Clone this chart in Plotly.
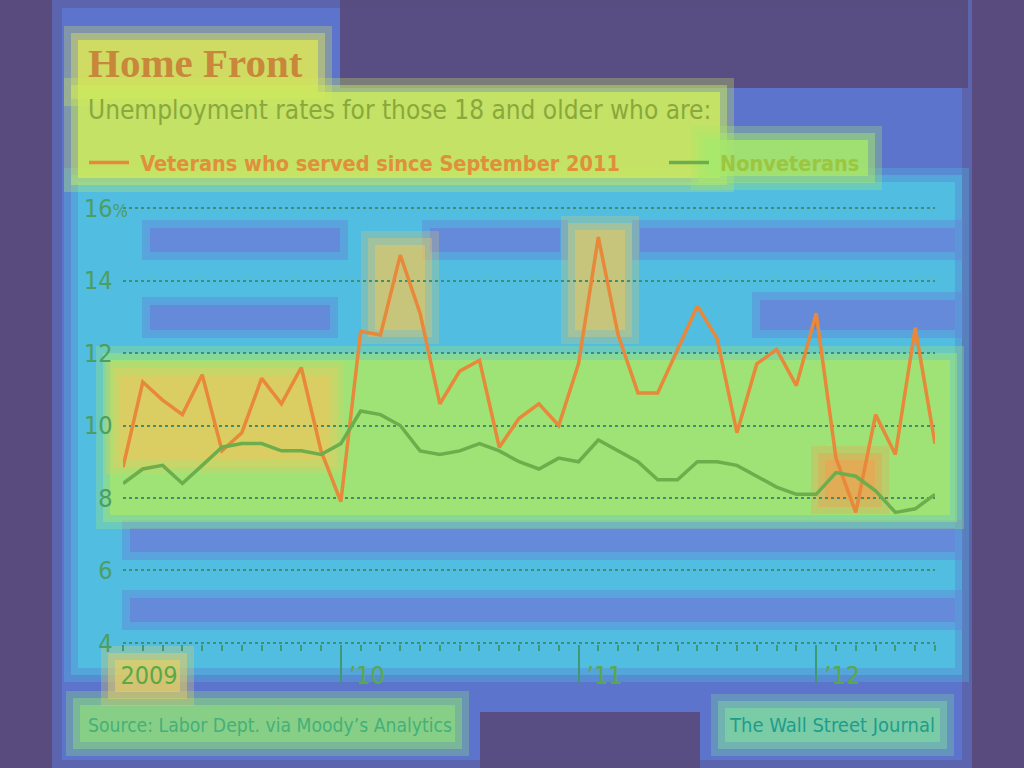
import plotly.graph_objects as go

# ---- data (monthly, Feb 2009 .. Jul 2012) ----
month_index = list(range(42))
veterans = [8.85, 11.2, 10.7, 10.3, 11.4, 9.3, 9.8, 11.3, 10.6, 11.6, 9.3, 7.9,
            12.6, 12.5, 14.7, 13.1, 10.6, 11.5, 11.8, 9.4, 10.2, 10.6, 10.0, 11.7,
            15.2, 12.5, 10.9, 10.9, 12.1, 13.3, 12.4, 9.8, 11.7, 12.1, 11.1, 13.1,
            9.1, 7.6, 10.3, 9.2, 12.7, 9.5]
nonveterans = [8.4, 8.8, 8.9, 8.4, 8.9, 9.4, 9.5, 9.5, 9.3, 9.3, 9.2, 9.5,
               10.4, 10.3, 10.0, 9.3, 9.2, 9.3, 9.5, 9.3, 9.0, 8.8, 9.1, 9.0,
               9.6, 9.3, 9.0, 8.5, 8.5, 9.0, 9.0, 8.9, 8.6, 8.3, 8.1, 8.1,
               8.7, 8.6, 8.2, 7.6, 7.7, 8.1]
year_label_pos = [0, 11, 23, 35]
year_labels = ["2009", "\u201910", "\u201911", "\u201912"]
year_tick_pos = [11, 23, 35]
y_tick_vals = [4, 6, 8, 10, 12, 14, 16]
y_tick_labels = ["4", "6", "8", "10", "12", "14", "16%"]
series_names = ["Veterans who served since September 2011", "Nonveterans"]

NARROW = "DejaVu Sans Condensed, Liberation Sans Narrow, sans-serif"

# ---- geometry of the plot area in pixels ----
W, H = 1024, 768
L, R, T, B = 123, 935, 207, 644
Y_RANGE = [3.97, 16.03]


def fx(X):
    return (X - L) / (R - L)


def fy(Y):
    return (B - Y) / (B - T)


shapes = []


def glow(x0, y0, x1, y1, color, pads=(14, 7, 0), ops=(0.3, 0.45, 0.8)):
    for p, o in zip(pads, ops):
        shapes.append(dict(type="rect", xref="paper", yref="paper",
                           x0=fx(x0 - p), x1=fx(x1 + p), y0=fy(y1 + p), y1=fy(y0 - p),
                           fillcolor=color, opacity=o, line=dict(width=0), layer="below"))


# background "heat" look
glow(62, 8, 962, 760, "#5c74cc", pads=(10, 0), ops=(0.6, 1.0))
glow(340, 0, 968, 88, "#584a7c", pads=(0,), ops=(0.9,))
glow(480, 712, 700, 768, "#584a7c", pads=(0,), ops=(0.9,))
glow(78, 182, 955, 668, "#4fc3e2")
# darker bands between grid lines
for (bx0, bx1, by0, by1) in [(150, 340, 228, 252), (430, 560, 228, 252), (640, 955, 228, 252),
                             (150, 330, 305, 330), (760, 955, 300, 330),
                             (130, 955, 528, 552), (130, 955, 598, 622)]:
    glow(bx0, by0, bx1, by1, "#6a7fd8", pads=(8, 0), ops=(0.4, 0.7))
glow(78, 40, 318, 92, "#d9e35a")
glow(78, 92, 720, 178, "#cdeb5c")
glow(705, 140, 868, 176, "#a6e96a")
glow(110, 360, 950, 515, "#a9e86a", ops=(0.3, 0.45, 0.7))
glow(120, 375, 330, 460, "#eec85c", ops=(0.25, 0.35, 0.5))
glow(375, 245, 425, 330, "#eec85c", ops=(0.25, 0.35, 0.5))
glow(575, 230, 625, 330, "#eec85c", ops=(0.25, 0.35, 0.5))
glow(825, 460, 875, 500, "#f0a050", ops=(0.3, 0.4, 0.6))
glow(80, 705, 455, 742, "#8fe07a", ops=(0.3, 0.45, 0.6))
glow(725, 708, 940, 742, "#7fdca0", ops=(0.3, 0.45, 0.6))
glow(115, 660, 180, 692, "#e8d060", ops=(0.3, 0.45, 0.6))

spacer = "<span style='color:rgba(0,0,0,0)'>____</span>"
fig = go.Figure()
fig.add_trace(go.Scatter(
    x=month_index, y=veterans, mode="lines",
    name="\u00a0<b><span style='color:#e08f3a'>" + series_names[0] + "</span>" + spacer + "</b>",
    line=dict(color="#e8883a", width=3.5), hoverinfo="skip"))
fig.add_trace(go.Scatter(
    x=month_index, y=nonveterans, mode="lines",
    name="\u00a0<b><span style='color:#9cc63e'>" + series_names[1] + "</span></b>",
    line=dict(color="#6cae4c", width=3.5), hoverinfo="skip"))
# carrier trace for the year-tick axis
fig.add_trace(go.Scatter(x=month_index, y=nonveterans, xaxis="x2", mode="lines",
                         line=dict(width=0), opacity=0, showlegend=False, hoverinfo="skip"))

tick_text = [t.replace("%", "<span style='font-size:18px'>%</span>") if t.endswith("%")
             else t + "<span style='font-size:18px;color:rgba(0,0,0,0)'>%</span>"
             for t in y_tick_labels]

axis_color = "#3f9a72"
fig.update_layout(
    width=W, height=H, autosize=False,
    margin=dict(l=L, r=W - R, t=T, b=H - B, autoexpand=False),
    paper_bgcolor="#5a4b7e", plot_bgcolor="rgba(0,0,0,0)",
    font=dict(family=NARROW),
    shapes=shapes,
    showlegend=True,
    legend=dict(orientation="h", xref="container", yref="container",
                x=84 / W, y=1 - 142 / H, xanchor="left", yanchor="top",
                font=dict(size=21.5, family=NARROW),
                bgcolor="rgba(0,0,0,0)", itemwidth=40, entrywidth=0,
                tracegroupgap=0, traceorder="normal"),
    xaxis=dict(range=[0, 41], tickvals=year_label_pos, ticktext=year_labels,
               ticks="", showgrid=False, zeroline=False, showline=False,
               tickfont=dict(size=25, color="#5aa84a"),
               ticklabelshift=26, ticklabelstandoff=14,
               minor=dict(tick0=0, dtick=1, ticks="outside", ticklen=6,
                          tickwidth=1.5, tickcolor=axis_color, showgrid=False)),
    xaxis2=dict(range=[0, 41], overlaying="x", anchor="y", side="bottom",
                tickvals=year_tick_pos, showticklabels=False, ticks="outside",
                ticklen=38, tickwidth=1.5, tickcolor=axis_color,
                showgrid=False, zeroline=False, showline=False),
    yaxis=dict(range=Y_RANGE, tickvals=y_tick_vals, ticktext=tick_text,
               ticks="", showline=False, zeroline=False,
               showgrid=True, gridcolor="#3f8f70", griddash="dot", gridwidth=1.5,
               tickfont=dict(size=25, color="#4c9e62"), ticklabelstandoff=-6),
)

fig.add_annotation(text="<b>Home Front</b>", xref="paper", yref="paper",
                   x=fx(86), y=fy(63), xanchor="left", yanchor="middle", showarrow=False,
                   font=dict(family="Liberation Serif, serif", size=41, color="#c8873a"))
fig.add_annotation(text="Unemployment rates for those 18 and older who are:",
                   xref="paper", yref="paper", x=fx(86), y=fy(110),
                   xanchor="left", yanchor="middle", showarrow=False,
                   font=dict(size=26, color="#8aa83c"))
fig.add_annotation(text="Source: Labor Dept. via Moody\u2019s Analytics",
                   xref="paper", yref="paper", x=fx(86), y=fy(725),
                   xanchor="left", yanchor="middle", showarrow=False,
                   font=dict(size=19.2, color="#45b07a"))
fig.add_annotation(text="The Wall Street Journal",
                   xref="paper", yref="paper", x=fx(937), y=fy(725),
                   xanchor="right", yanchor="middle", showarrow=False,
                   font=dict(size=20, color="#1f9c8c"))

fig.write_html("out.html")
